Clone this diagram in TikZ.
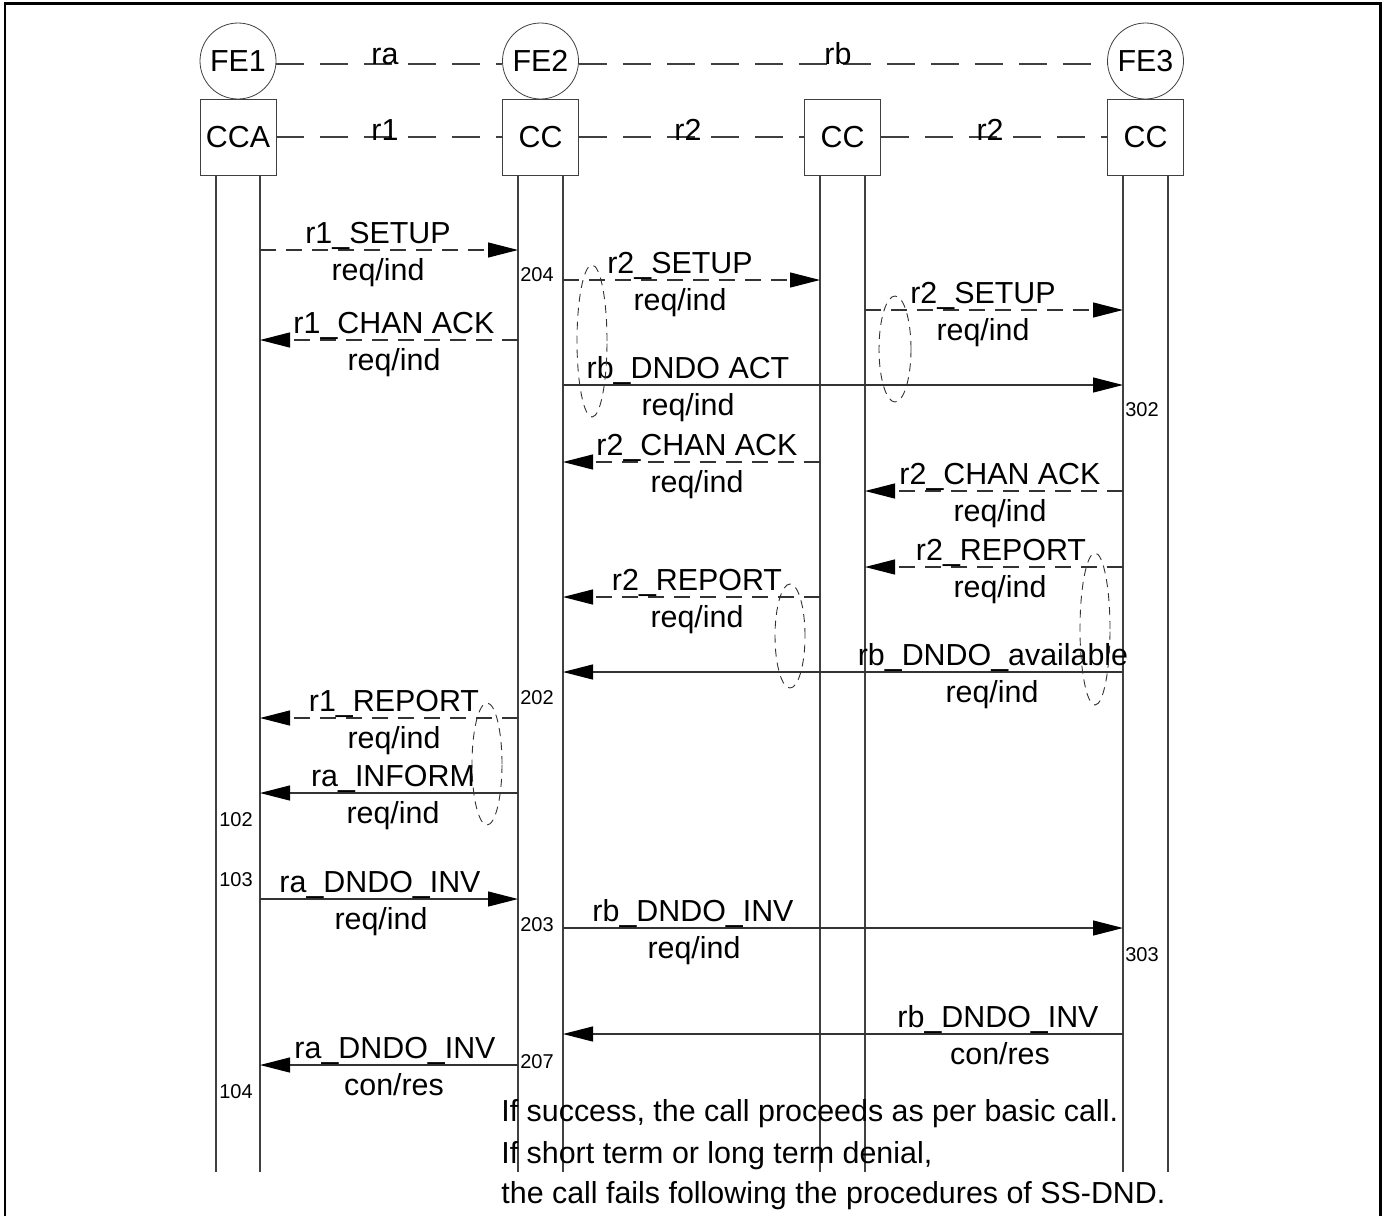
\documentclass[tikz,border=0pt]{standalone}
\usepackage{fontspec}
\setmainfont{Liberation Sans}
\usetikzlibrary{arrows.meta}

\tikzset{
  fe/.style={draw=black!75, circle, minimum size=38pt, inner sep=0pt},
  cc/.style={draw=black!75, minimum size=38pt, inner sep=0pt},
  life/.style={draw=black!75, line width=0.6pt},
  link/.style={draw=black!75, line width=0.6pt, dash pattern=on 14pt off 8pt},
  msg/.style={draw=black!80, line width=0.6pt, -{Triangle[length=15pt,width=7.5pt,black]}},
  dmsg/.style={msg, dash pattern=on 8pt off 5pt},
  lbl/.style={anchor=base, inner sep=0pt},
  num/.style={font=\fontsize{10}{12}\selectfont, inner sep=0pt},
  loopmark/.style={draw=black!80, line width=0.45pt, dash pattern=on 4pt off 3pt},
}

\begin{document}
\begin{tikzpicture}[x=0.5pt, y=-0.5pt, font=\fontsize{15.2}{18}\selectfont]
\useasboundingbox (0,0) rectangle (1391,1216);
\fill[white] (0,0) rectangle (1391,1216);
\draw[line width=1.2pt] (5,1216) -- (5,3.5) -- (1380.5,3.5) -- (1380.5,1216);

% functional entities and their CC boxes
\node[fe] (FE1) at (238,61) {FE1};
\node[fe] (FE2) at (540.5,61) {FE2};
\node[fe] (FE3) at (1145.5,61) {FE3};
\node[cc] (CCA) at (238,137) {CCA};
\node[cc] (CC2) at (540.5,137) {CC};
\node[cc] (CC3) at (842.5,137) {CC};
\node[cc] (CC4) at (1145.5,137) {CC};

% relationships
\draw[link] (FE1.east |- 0,64) -- (FE2.west |- 0,64);
\draw[link] (FE2.east |- 0,64) -- (FE3.west |- 0,64);
\draw[link] (CCA) -- (CC2);
\draw[link] (CC2) -- (CC3);
\draw[link] (CC3) -- (CC4);
\node[lbl] (ra) at (385,64) {ra};
\node[lbl] (rb) at (838,64) {rb};
\node[lbl] (r1) at (385,140) {r1};
\node[lbl] (r2a) at (688,140) {r2};
\node[lbl] (r2b) at (990,140) {r2};

% lifelines
\coordinate (b1a) at (216,1172);
\coordinate (b1b) at (260,1172);
\coordinate (b2a) at (518,1172);
\coordinate (b2b) at (563,1172);
\coordinate (b3a) at (820,1172);
\coordinate (b3b) at (865,1172);
\coordinate (b4a) at (1123,1172);
\coordinate (b4b) at (1168,1172);
\draw[life] (CCA.south -| b1a) -- (b1a);
\draw[life] (CCA.south -| b1b) -- (b1b);
\draw[life] (CC2.south -| b2a) -- (b2a);
\draw[life] (CC2.south -| b2b) -- (b2b);
\draw[life] (CC3.south -| b3a) -- (b3a);
\draw[life] (CC3.south -| b3b) -- (b3b);
\draw[life] (CC4.south -| b4a) -- (b4a);
\draw[life] (CC4.south -| b4b) -- (b4b);

% messages
\draw[dmsg] (b1b |- 0,250) -- (b2a |- 0,250);
\node[lbl] (m1) at (378,243) {r1\_SETUP};
\node[lbl] (m1s) at (378,280) {req/ind};

\draw[dmsg] (b2b |- 0,280) -- (b3a |- 0,280);
\node[lbl] (m2) at (680,273) {r2\_SETUP};
\node[lbl] (m2s) at (680,310) {req/ind};

\draw[dmsg] (b2a |- 0,340) -- (b1b |- 0,340);
\node[lbl] (m3) at (394,333) {r1\_CHAN ACK};
\node[lbl] (m3s) at (394,370) {req/ind};

\draw[dmsg] (b3b |- 0,310) -- (b4a |- 0,310);
\node[lbl] (m4) at (983,303) {r2\_SETUP};
\node[lbl] (m4s) at (983,340) {req/ind};

\draw[msg] (b2b |- 0,385) -- (b4a |- 0,385);
\node[lbl] (m5) at (688,378) {rb\_DNDO ACT};
\node[lbl] (m5s) at (688,415) {req/ind};

\draw[dmsg] (b3a |- 0,462) -- (b2b |- 0,462);
\node[lbl] (m6) at (697,455) {r2\_CHAN ACK};
\node[lbl] (m6s) at (697,492) {req/ind};

\draw[dmsg] (b4a |- 0,491) -- (b3b |- 0,491);
\node[lbl] (m7) at (1000,484) {r2\_CHAN ACK};
\node[lbl] (m7s) at (1000,521) {req/ind};

\draw[dmsg] (b4a |- 0,567) -- (b3b |- 0,567);
\node[lbl] (m8) at (1001,560) {r2\_REPORT};
\node[lbl] (m8s) at (1000,597) {req/ind};

\draw[dmsg] (b3a |- 0,597) -- (b2b |- 0,597);
\node[lbl] (m9) at (697,590) {r2\_REPORT};
\node[lbl] (m9s) at (697,627) {req/ind};

\draw[msg] (b4a |- 0,672) -- (b2b |- 0,672);
\node[lbl] (m10) at (993,665) {rb\_DNDO\_available};
\node[lbl] (m10s) at (992,702) {req/ind};

\draw[dmsg] (b2a |- 0,718) -- (b1b |- 0,718);
\node[lbl] (m11) at (394,711) {r1\_REPORT};
\node[lbl] (m11s) at (394,748) {req/ind};

\draw[msg] (b2a |- 0,793) -- (b1b |- 0,793);
\node[lbl] (m12) at (393,786) {ra\_INFORM};
\node[lbl] (m12s) at (393,823) {req/ind};

\draw[msg] (b1b |- 0,899) -- (b2a |- 0,899);
\node[lbl] (m13) at (380,892) {ra\_DNDO\_INV};
\node[lbl] (m13s) at (381,929) {req/ind};

\draw[msg] (b2b |- 0,928) -- (b4a |- 0,928);
\node[lbl] (m14) at (693,921) {rb\_DNDO\_INV};
\node[lbl] (m14s) at (694,958) {req/ind};

\draw[msg] (b4a |- 0,1034) -- (b2b |- 0,1034);
\node[lbl] (m15) at (998,1027) {rb\_DNDO\_INV};
\node[lbl] (m15s) at (1000,1064) {con/res};

\draw[msg] (b2a |- 0,1065) -- (b1b |- 0,1065);
\node[lbl] (m16) at (395,1058) {ra\_DNDO\_INV};
\node[lbl] (m16s) at (394,1095) {con/res};

% SDL reference numbers
\node[num] (n204) at (537,275) {204};
\node[num] (n302) at (1142,410) {302};
\node[num] (n202) at (537,698) {202};
\node[num] (n102) at (236,820) {102};
\node[num] (n103) at (236,880) {103};
\node[num] (n203) at (537,925) {203};
\node[num] (n303) at (1142,955) {303};
\node[num] (n207) at (537,1062) {207};
\node[num] (n104) at (236,1092) {104};

% grouping marks
\draw[loopmark] (592,341) ellipse [x radius=7.5pt, y radius=38pt];
\draw[loopmark] (895,349) ellipse [x radius=8pt, y radius=26.5pt];
\draw[loopmark] (790,636) ellipse [x radius=7.5pt, y radius=26pt];
\draw[loopmark] (1095,629) ellipse [x radius=7.5pt, y radius=38pt];
\draw[loopmark] (487,764) ellipse [x radius=7.5pt, y radius=30.5pt];

% note
\node[anchor=base west, inner sep=0pt] (t1) at (501,1121) {If success, the call proceeds as per basic call.};
\node[anchor=base west, inner sep=0pt] (t2) at (501,1163) {If short term or long term denial,};
\node[anchor=base west, inner sep=0pt] (t3) at (501,1203) {the call fails following the procedures of SS-DND.};

\end{tikzpicture}
\end{document}
